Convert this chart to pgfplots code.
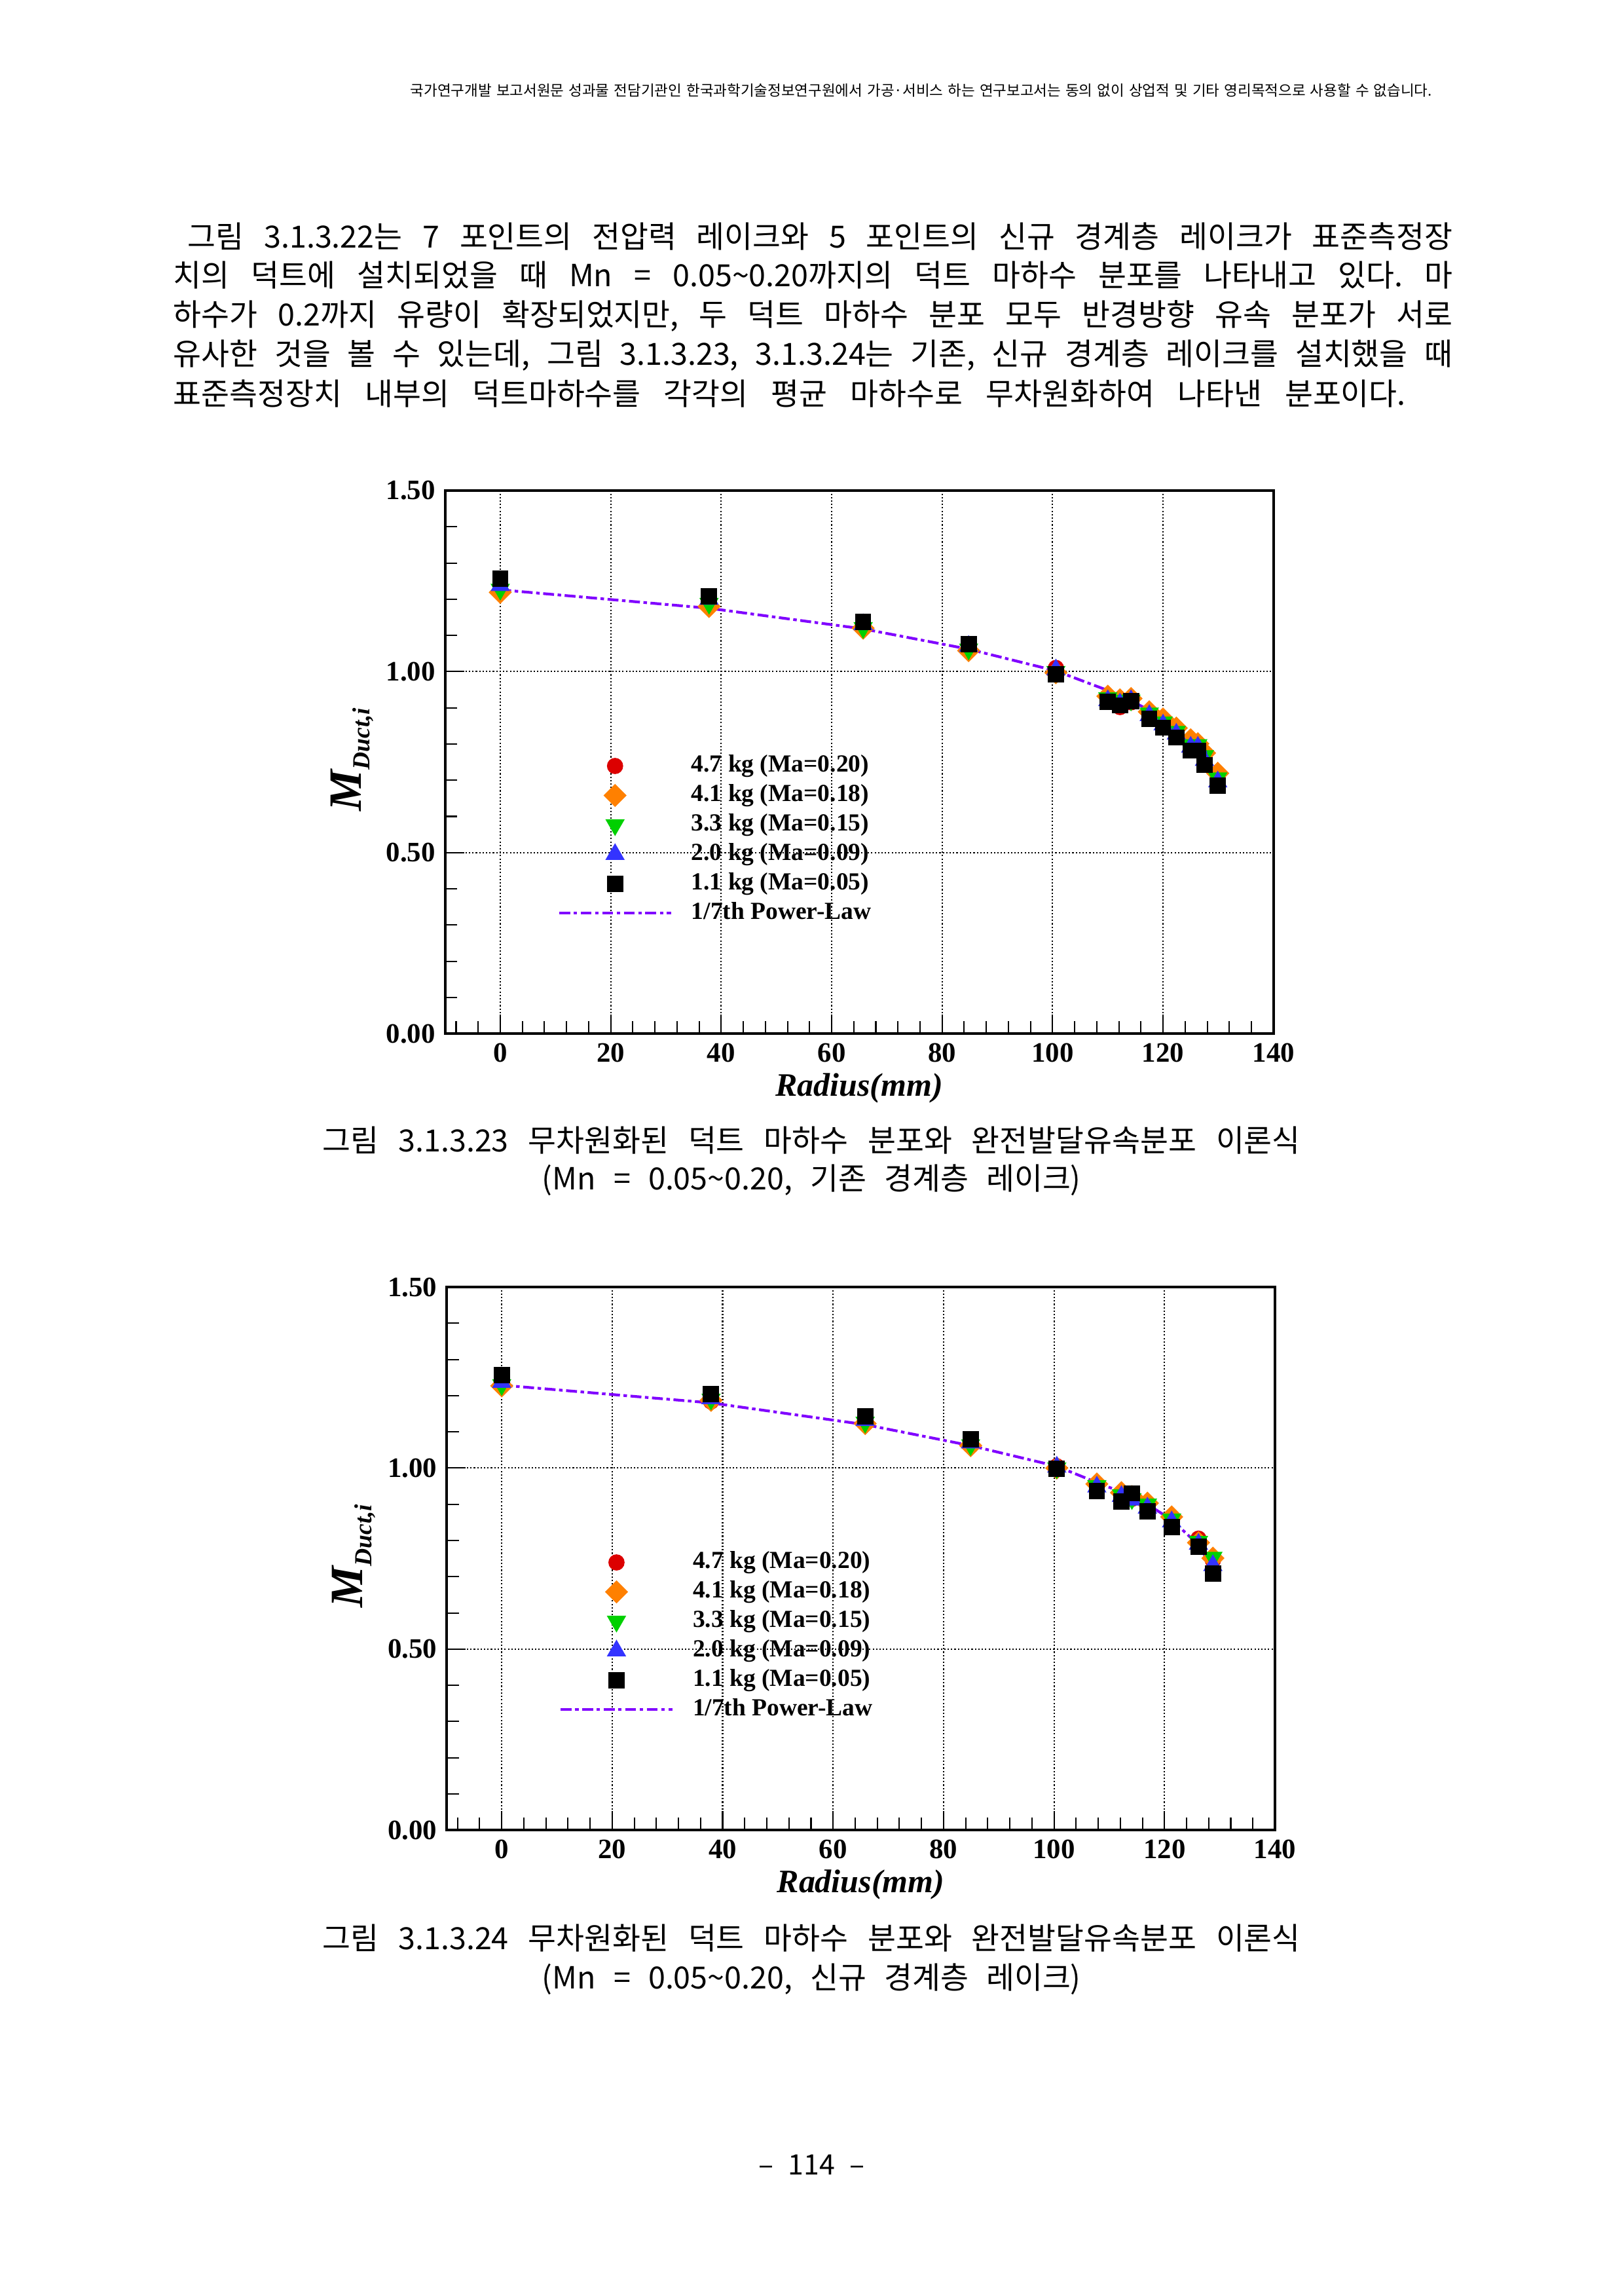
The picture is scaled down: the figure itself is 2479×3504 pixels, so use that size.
\documentclass[border=0pt]{standalone}
\usepackage{pgfplots}
\usepackage{pgfplotstable}
\pgfplotsset{compat=1.18}
\usepackage{fontspec}
\setmainfont{Liberation Serif}
\newfontfamily\kr{Noto Sans CJK KR}
\newcommand\wsp{\char"20\hfill}
\definecolor{cred}{RGB}{220,0,0}
\definecolor{corange}{RGB}{255,128,0}
\definecolor{cgreen}{RGB}{0,208,0}
\definecolor{cblue}{RGB}{51,51,255}
\definecolor{cpurple}{RGB}{128,0,255}

\pgfplotstableread{
x     red    orange green  blue   black
0     1.225  1.219  1.227  1.238  1.257
37.8  1.185  1.180  1.188  1.200  1.208
65.7  1.123  1.120  1.121  1.130  1.137
84.8  1.062  1.058  1.062  1.070  1.076
100.6 1.010  0.997  1.000  1.005  0.992
110.0 0.925  0.932  0.927  0.920  0.9165
112.2 0.902  0.922  0.921  0.911  0.9065
114.2 0.915  0.9255 0.921  0.920  0.919
117.5 0.883  0.889  0.885  0.879  0.870
120.0 0.858  0.869  0.860  0.853  0.845
122.4 0.832  0.844  0.8345 0.8276 0.818
125.0 0.796  0.8115 0.798  0.7915 0.782
126.3 0.795  0.8007 0.798  0.7915 0.782
127.5 0.764  0.775  0.7676 0.755  0.742
129.9 0.704  0.719  0.706  0.6956 0.685
}\dataA
\pgfplotstableread{
x     y
0     1.226
37.8  1.175
65.7  1.118
84.8  1.062
100.6 1.002
110.0 0.948
112.2 0.934
114.2 0.920
117.5 0.893
120.0 0.869
122.4 0.842
125.0 0.805
126.3 0.782
127.5 0.756
129.9 0.679
}\lineA
\pgfplotstableread{
x      red    orange green  blue   black
0      1.228  1.227  1.230  1.237  1.257
37.9   1.184  1.187  1.190  1.192  1.204
65.8   1.125  1.123  1.126  1.132  1.143
84.9   1.062  1.062  1.064  1.070  1.079
100.5  1.005  1.000  1.000  1.003  0.9976
107.75 0.950  0.956  0.951  0.948  0.936
112.2  0.925  0.932  0.926  0.922  0.908
114.1  0.915  0.921  0.915  0.912  0.930
116.9  0.898  0.903  0.900  0.890  0.880
121.3  0.860  0.865  0.859  0.852  0.837
126.15 0.805  0.794  0.797  0.790  0.783
128.76 0.745  0.751  0.753  0.731  0.708
}\dataB
\pgfplotstableread{
x      y
0      1.229
37.9   1.180
65.8   1.120
84.9   1.062
100.5  1.005
107.75 0.960
112.2  0.934
114.1  0.921
116.9  0.900
121.3  0.857
126.15 0.788
128.76 0.720
}\lineB

\pgfplotsset{
  myimg/.style={legend image code/.code={%
      \draw[mark repeat=2,mark phase=2] plot coordinates {(0pt,0pt) (20.5pt,0pt) (41pt,0pt)};
      \path (0pt,0pt) (48pt,0pt);}},
  mychart/.style={
    scale only axis, width=303.8pt, height=199.1pt,
    anchor=south west,
    xmin=-10, xmax=140, ymin=0, ymax=1.5,
    xtick={0,20,...,140}, ytick={0,0.5,1,1.5},
    minor xtick={-8,-4,...,136},
    minor ytick={0.1,0.2,0.3,0.4,0.6,0.7,0.8,0.9,1.1,1.2,1.3,1.4},
    tick align=inside, xtick pos=bottom, ytick pos=left,
    major tick length=7pt, minor tick length=4.5pt,
    every tick/.style={black, line width=0.5pt},
    xmajorgrids, ymajorgrids,
    major grid style={black, line width=0.5pt, dash pattern=on 0.5pt off 0.75pt},
    axis line style={line width=1pt},
    tick label style={font=\bfseries\fontsize{10.3}{10.3}\selectfont},
    /pgf/number format/assume math mode=true,
    yticklabel style={/pgf/number format/fixed, /pgf/number format/fixed zerofill, /pgf/number format/precision=2},
    xlabel={\textbf{\textit{Radius(mm)}}},
    xlabel style={at={(axis description cs:0.5,0)}, anchor=center, yshift=-20pt, font=\fontsize{12}{12}\selectfont},
    ylabel={\textbf{\textit{\fontsize{17}{17}\selectfont M\raisebox{-3.2pt}{\fontsize{9}{9}\selectfont Duct,i}}}},
    ylabel style={at={(axis description cs:-0.112,0.505)}, anchor=center},
    legend style={draw=none, fill=none, at={(0.1361,0.5200)}, anchor=north west,
      inner sep=0pt, outer sep=0pt, row sep=0pt,
      font=\bfseries\fontsize{9}{9}\selectfont,
      nodes={inner sep=0pt, text height=7.5pt, text depth=3.3pt}},
    legend cell align=left,
  },
  pred/.style={only marks, mark=*, mark size=2.77pt, mark options={draw=cred, fill=cred}, myimg},
  porange/.style={only marks, mark=square*, mark size=2.8pt, mark options={rotate=45, draw=corange, fill=corange}, myimg},
  pgreen/.style={only marks, mark=triangle*, mark size=3.7pt, mark options={rotate=180, draw=cgreen, fill=cgreen}, myimg},
  pblue/.style={only marks, mark=triangle*, mark size=3.7pt, mark options={draw=cblue, fill=cblue}, myimg},
  pblack/.style={only marks, mark=square*, mark size=2.77pt, mark options={draw=black, fill=black}, myimg},
  pline/.style={no marks, color=cpurple, line width=1pt, dash pattern=on 4pt off 1.3pt on 1.3pt off 1.3pt, myimg},
}

\begin{document}
\begin{tikzpicture}[x=0.24013pt,y=0.24013pt]
\path[fill=white] (0,0) rectangle (2479,3504);
% header
\node[anchor=base west, inner sep=0pt] at (626,3357) {\kr\fontsize{5.4}{6}\selectfont\makebox[374.6pt][l]{국가연구개발\wsp 보고서원문\wsp 성과물\wsp 전담기관인\wsp 한국과학기술정보연구원에서\wsp 가공·서비스\wsp 하는\wsp 연구보고서는\wsp 동의\wsp 없이\wsp 상업적\wsp 및\wsp 기타\wsp 영리목적으로\wsp 사용할\wsp 수\wsp 없습니다.}};
% paragraph
\begin{scope}[every node/.style={anchor=base west, inner sep=0pt, font=\kr\fontsize{11.2}{12}\selectfont}]
\node at (286,3125) {\makebox[463.8pt][l]{그림\wsp 3.1.3.22는\wsp 7\wsp 포인트의\wsp 전압력\wsp 레이크와\wsp 5\wsp 포인트의\wsp 신규\wsp 경계층\wsp 레이크가\wsp 표준측정장}};
\node at (264,3066.5) {\makebox[469.1pt][l]{치의\wsp 덕트에\wsp 설치되었을\wsp 때\wsp Mn\wsp =\wsp 0.05\textasciitilde0.20까지의\wsp 덕트\wsp 마하수\wsp 분포를\wsp 나타내고\wsp 있다.\wsp 마}};
\node at (264,3006) {\makebox[469.1pt][l]{하수가\wsp 0.2까지\wsp 유량이\wsp 확장되었지만,\wsp 두\wsp 덕트\wsp 마하수\wsp 분포\wsp 모두\wsp 반경방향\wsp 유속\wsp 분포가\wsp 서로}};
\node at (264,2946) {\makebox[469.1pt][l]{유사한\wsp 것을\wsp 볼\wsp 수\wsp 있는데,\wsp 그림\wsp 3.1.3.23,\wsp 3.1.3.24는\wsp 기존,\wsp 신규\wsp 경계층\wsp 레이크를\wsp 설치했을\wsp 때}};
\node at (264,2885.5) {\makebox[451.9pt][l]{표준측정장치\wsp 내부의\wsp 덕트마하수를\wsp 각각의\wsp 평균\wsp 마하수로\wsp 무차원화하여\wsp 나타낸\wsp 분포이다.}};
% captions
\node at (492,1745) {\makebox[358.5pt][l]{그림\wsp 3.1.3.23\wsp 무차원화된\wsp 덕트\wsp 마하수\wsp 분포와\wsp 완전발달유속분포\wsp 이론식}};
\node at (827,1687) {\makebox[197.6pt][l]{(Mn\wsp =\wsp 0.05\textasciitilde0.20,\wsp 기존\wsp 경계층\wsp 레이크)}};
\node at (492,527) {\makebox[358.5pt][l]{그림\wsp 3.1.3.24\wsp 무차원화된\wsp 덕트\wsp 마하수\wsp 분포와\wsp 완전발달유속분포\wsp 이론식}};
\node at (827,467) {\makebox[197.6pt][l]{(Mn\wsp =\wsp 0.05\textasciitilde0.20,\wsp 신규\wsp 경계층\wsp 레이크)}};
\end{scope}
% page number
\node[anchor=base west, inner sep=0pt] at (1158,183) {\kr\fontsize{10.3}{12}\selectfont\makebox[38.7pt][l]{–\wsp 114\wsp –}};

\begin{axis}[mychart, at={(163.19pt,462.44pt)}]
\addplot[pred] table[x=x,y=red] {\dataA};
\addplot[porange] table[x=x,y=orange] {\dataA};
\addplot[pgreen] table[x=x,y=green] {\dataA};
\addplot[pblue] table[x=x,y=blue] {\dataA};
\addplot[pblack] table[x=x,y=black] {\dataA};
\addplot[pline] table[x=x,y=y] {\lineA};
\legend{4.7 kg (Ma=0.20),4.1 kg (Ma=0.18),3.3 kg (Ma=0.15),2.0 kg (Ma=0.09),1.1 kg (Ma=0.05),1/7th Power-Law}
\end{axis}

\begin{axis}[mychart, at={(163.72pt,170.44pt)}]
\addplot[pred] table[x=x,y=red] {\dataB};
\addplot[porange] table[x=x,y=orange] {\dataB};
\addplot[pgreen] table[x=x,y=green] {\dataB};
\addplot[pblue] table[x=x,y=blue] {\dataB};
\addplot[pblack] table[x=x,y=black] {\dataB};
\addplot[pline] table[x=x,y=y] {\lineB};
\legend{4.7 kg (Ma=0.20),4.1 kg (Ma=0.18),3.3 kg (Ma=0.15),2.0 kg (Ma=0.09),1.1 kg (Ma=0.05),1/7th Power-Law}
\end{axis}
\end{tikzpicture}
\end{document}
